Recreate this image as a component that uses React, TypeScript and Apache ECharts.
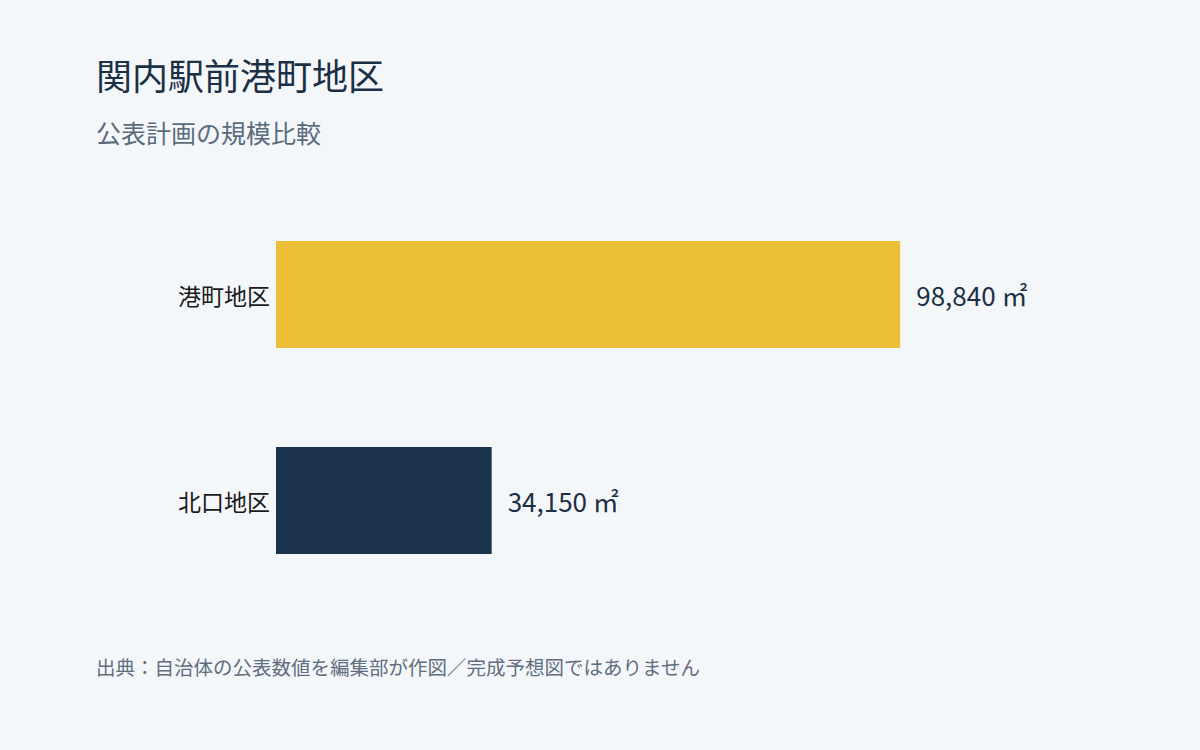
import React, { useEffect, useRef } from 'react';
import * as echarts from 'echarts';

const categories = ['港町地区', '北口地区'];
const areaValues = [98840, 34150];
const barColors = ['#edbe38', '#1b344d'];

const FONT = '"Noto Sans CJK JP", "Noto Sans", sans-serif';

const App: React.FC = () => {
  const chartRef = useRef<HTMLDivElement>(null);

  useEffect(() => {
    if (!chartRef.current) return;
    const chart = echarts.init(chartRef.current, undefined, { renderer: 'svg' });

    const option = {
      animation: false,
      backgroundColor: '#f4f7fa',
      textStyle: { fontFamily: FONT },
      title: [
        {
          text: '関内駅前港町地区',
          left: 96,
          top: 56,
          padding: 0,
          textStyle: { fontSize: 36, fontWeight: 'normal', color: '#1b2f45', fontFamily: FONT },
        },
        {
          text: '公表計画の規模比較',
          left: 96,
          top: 119,
          padding: 0,
          textStyle: { fontSize: 25, fontWeight: 'normal', color: '#5b6b7c', fontFamily: FONT },
        },
        {
          text: '出典：自治体の公表数値を編集部が作図／完成予想図ではありません',
          left: 96,
          top: 657,
          padding: 0,
          textStyle: { fontSize: 19.5, fontWeight: 'normal', color: '#5f6e7e', fontFamily: FONT },
        },
      ],
      grid: { left: 276, top: 191.5, width: 821, height: 412 },
      xAxis: {
        type: 'value',
        min: 0,
        max: 130000,
        show: false,
      },
      yAxis: {
        type: 'category',
        data: categories,
        inverse: true,
        axisLine: { show: false },
        axisTick: { show: false },
        axisLabel: { fontSize: 23, color: '#1a1a1a', margin: 6, fontFamily: FONT },
      },
      series: [
        {
          type: 'bar',
          barWidth: 107,
          data: areaValues.map((v, i) => ({ value: v, itemStyle: { color: barColors[i] } })),
          label: {
            show: true,
            position: 'right',
            distance: 16,
            fontSize: 26,
            color: '#1b2f45',
            fontFamily: FONT,
            formatter: (p: any) => `${Number(p.value).toLocaleString('en-US')} ㎡`,
          },
        },
      ],
    };

    chart.setOption(option);
    const resizeHandler = () => chart.resize();
    window.addEventListener('resize', resizeHandler);
    return () => {
      window.removeEventListener('resize', resizeHandler);
      chart.dispose();
    };
  }, []);

  return (
    <div
      ref={chartRef}
      style={{ position: 'fixed', left: 0, top: 0, width: 1200, height: 750 }}
    ></div>
  );
};

export default App;
